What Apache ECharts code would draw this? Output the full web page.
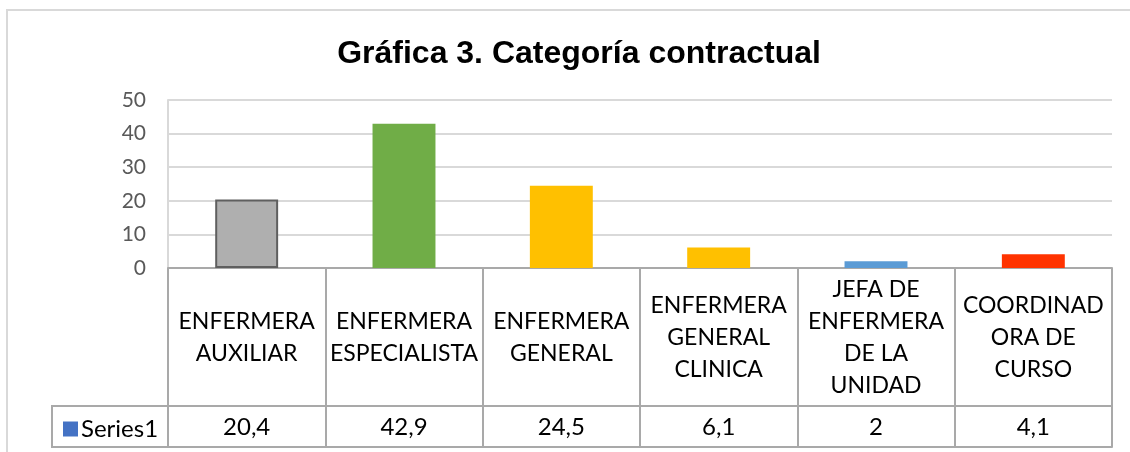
<!DOCTYPE html>
<html>
<head>
<meta charset="utf-8">
<script src="https://cdn.jsdelivr.net/npm/echarts@6/dist/echarts.min.js"></script>
<style>
  html, body { margin: 0; padding: 0; background: #fff; }
  #chart { width: 1130px; height: 452px; }
</style>
</head>
<body>
<div id="chart"></div>
<script>
// categorias tal como aparecen (con sus saltos de linea)
const categories = [
  'ENFERMERA\nAUXILIAR',
  'ENFERMERA\nESPECIALISTA',
  'ENFERMERA\nGENERAL',
  'ENFERMERA\nGENERAL\nCLINICA',
  'JEFA DE\nENFERMERA\nDE LA\nUNIDAD',
  'COORDINAD\nORA DE\nCURSO'
]
const values = [20.4, 42.9, 24.5, 6.1, 2, 4.1]
const barColors = ['#AFAFAF', '#70AD47', '#FFC000', '#FFC000', '#5B9BD5', '#FF3300']
const yTicks = [0, 10, 20, 30, 40, 50]

const tableLine = '#A9A9A9'
const cellFont = 'Lato, "Open Sans", sans-serif'

const myChart = echarts.init(document.getElementById('chart'))

const option = {
  animation: false,
  title: {
    text: 'Gráfica 3. Categoría contractual',
    left: 574,
    top: 33,
    textAlign: 'center',
    textStyle: {
      fontFamily: '"Liberation Sans", Arial, sans-serif',
      fontWeight: 'bold',
      fontSize: 32,
      color: '#000'
    }
  },
  legend: {
    data: ['Series1'],
    left: 58,
    top: 412,
    icon: 'rect',
    itemWidth: 15,
    itemHeight: 15,
    itemGap: 0,
    textStyle: { fontFamily: cellFont, fontSize: 24, color: '#000', padding: [0, 0, 0, -2] }
  },
  grid: {
    left: 168,
    right: 18,
    top: 100,
    bottom: 184
  },
  xAxis: [
    { // fila de categorias
      type: 'category',
      data: categories,
      position: 'bottom',
      axisLine: { show: true, lineStyle: { color: tableLine, width: 2 } },
      axisTick: { show: true, length: 179, lineStyle: { color: tableLine, width: 2 } },
      axisLabel: {
        interval: 0,
        margin: 70,
        verticalAlign: 'middle',
        fontFamily: cellFont,
        fontSize: 23,
        lineHeight: 32,
        color: '#000'
      }
    },
    { // fila de valores
      type: 'category',
      data: categories,
      position: 'bottom',
      offset: 138,
      axisLine: { show: true, lineStyle: { color: tableLine, width: 2 } },
      axisTick: { show: false },
      axisLabel: {
        interval: 0,
        margin: 21,
        verticalAlign: 'middle',
        fontFamily: cellFont,
        fontSize: 24,
        color: '#000',
        formatter: function (v, i) {
          return String(values[i]).replace('.', ',')
        }
      }
    },
    { // borde inferior de la tabla
      type: 'category',
      data: categories,
      position: 'bottom',
      offset: 179,
      axisLine: { show: true, lineStyle: { color: tableLine, width: 2 } },
      axisTick: { show: false },
      axisLabel: { show: false }
    }
  ],
  yAxis: {
    type: 'value',
    min: yTicks[0],
    max: yTicks[yTicks.length - 1],
    interval: 10,
    axisLine: { show: true, lineStyle: { color: '#D9D9D9', width: 2 } },
    axisTick: { show: false },
    axisLabel: {
      margin: 22,
      fontFamily: cellFont,
      fontSize: 21,
      color: '#595959'
    },
    splitLine: { lineStyle: { color: '#D9D9D9', width: 2 } }
  },
  series: [
    {
      name: 'Series1',
      type: 'bar',
      barWidth: '40%',
      itemStyle: { color: '#4472C4' },
      data: values.map(function (v, i) {
        const item = { value: v, itemStyle: { color: barColors[i] } }
        if (i === 0) {
          item.itemStyle.borderColor = '#5F5F5F'
          item.itemStyle.borderWidth = 2
        }
        return item
      })
    }
  ],
  graphic: [
    { // borde del area del grafico
      type: 'rect',
      silent: true,
      shape: { x: 7, y: 10, width: 1200, height: 600 },
      style: { fill: 'none', stroke: '#D9D9D9', lineWidth: 2 }
    },
    { // celda de la leyenda
      type: 'polyline',
      silent: true,
      shape: { points: [[168, 406], [52, 406], [52, 447], [168, 447]] },
      style: { fill: 'none', stroke: tableLine, lineWidth: 2 }
    }
  ]
}

myChart.setOption(option)
</script>
</body>
</html>
